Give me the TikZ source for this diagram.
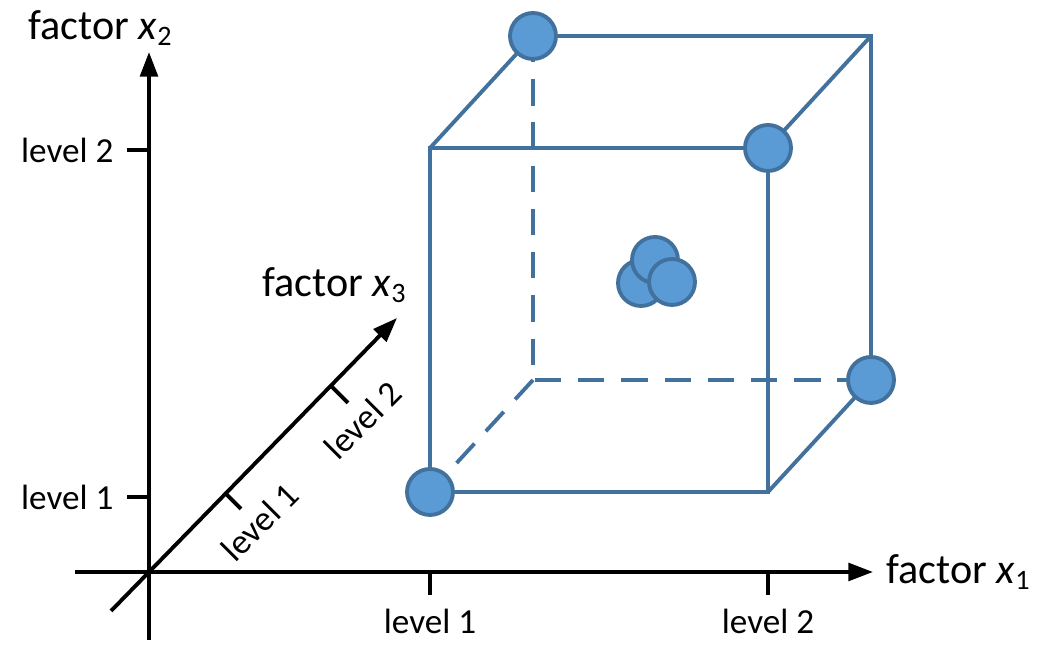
\documentclass[tikz,border=0pt]{standalone}
\usepackage{fontspec}
\setmainfont{Carlito}
\usetikzlibrary{arrows.meta}
\definecolor{ptfill}{HTML}{5B9BD5}
\definecolor{ptedge}{HTML}{41719C}
\tikzset{
  axis/.style={line width=1.1pt,-{Triangle[length=7pt,width=5pt]}},
  tick/.style={line width=1.1pt},
  edge/.style={ptedge,line width=1.1pt},
  hidden/.style={edge,dash pattern=on 7.5pt off 4.8pt},
  run/.style={circle,draw=ptedge,fill=ptfill,line width=1.1pt,minimum size=0.46cm,inner sep=0pt},
  lvl/.style={font=\fontsize{10}{12}\selectfont},
  fac/.style={font=\fontsize{12}{14}\selectfont}
}
\begin{document}
\begin{tikzpicture}
	\useasboundingbox (0,0) rectangle (10.56,6.45);

	% axes
	\coordinate (o) at (1.49,0.73);
	\draw[axis] (0.75,0.73) -- (8.73,0.73) coordinate (x1) node[right,fac] (lx1) {factor \textit{x}\textsubscript{1}};
	\draw[axis] (1.49,0.05) -- (1.49,5.93) coordinate (x2);
	\node[fac] (lx2) at (1.01,6.17) {factor \textit{x}\textsubscript{2}};
	\draw[axis] (1.11,0.34) -- (3.97,3.27) coordinate (x3);
	\node[fac] (lx3) at (3.35,3.60) {factor \textit{x}\textsubscript{3}};

	% ticks
	\foreach \y/\l in {4.95/2, 1.48/1} \draw[tick] (1.27,\y) -- (1.49,\y) node[pos=0,left,lvl] {level \l};
	\foreach \x/\l in {4.30/1, 7.68/2} \draw[tick] (\x,0.73) -- (\x,0.50) node[below,lvl] {level \l};
	\draw[tick] (2.25,1.52) -- (2.41,1.36);
	\draw[tick] (3.32,2.58) -- (3.48,2.42);
	\node[lvl,rotate=45] (d1) at (2.60,1.23) {level 1};
	\node[lvl,rotate=45] (d2) at (3.63,2.25) {level 2};

	% cube
	\coordinate (fbl) at (4.30,1.53);
	\coordinate (fbr) at (7.68,1.53);
	\coordinate (ftr) at (7.68,4.97);
	\coordinate (ftl) at (4.30,4.97);
	\coordinate (bbl) at (5.33,2.65);
	\coordinate (bbr) at (8.71,2.65);
	\coordinate (btr) at (8.71,6.09);
	\coordinate (btl) at (5.33,6.09);

	\draw[hidden] (btl) -- (bbl) -- (bbr);
	\draw[hidden] (bbl) -- (fbl);
	\draw[edge] (fbl) -- (fbr) -- (ftr) -- (ftl) -- cycle;
	\draw[edge] (ftl) -- (btl) -- (btr) -- (bbr) -- (fbr);
	\draw[edge] (ftr) -- (btr);

	% runs
	\node[run] (r1) at (fbl) {};
	\node[run] (r2) at (ftr) {};
	\node[run] (r3) at (bbr) {};
	\node[run] (r4) at (btl) {};

	\node[run] (c1) at (6.41,3.62) {};
	\node[run] (c2) at (6.55,3.85) {};
	\node[run] (c3) at (6.72,3.63) {};

\end{tikzpicture}
\end{document}
